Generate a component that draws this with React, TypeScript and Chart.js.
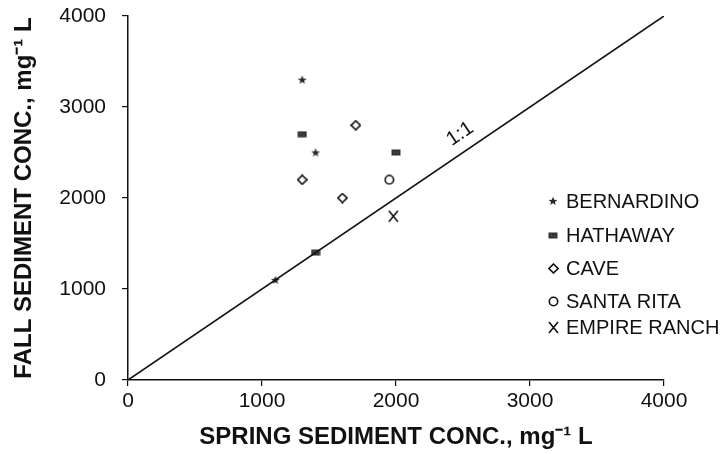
import React, { useEffect, useRef } from "react";
import { Chart, registerables } from "chart.js";

Chart.register(...registerables);

// ---- data ----
const seriesNames = ["BERNARDINO", "HATHAWAY", "CAVE", "SANTA RITA", "EMPIRE RANCH"];
const bernardinoX = [1300, 1400, 1100];
const bernardinoY = [3300, 2500, 1100];
const hathawayX = [1300, 2000, 1400];
const hathawayY = [2700, 2500, 1400];
const caveX = [1700, 1300, 1600];
const caveY = [2800, 2200, 2000];
const santaRitaX = [1950];
const santaRitaY = [2200];
const empireRanchX = [1980];
const empireRanchY = [1800];
const oneToOneX = [0, 4000];
const oneToOneY = [0, 4000];
const xTicks = [0, 1000, 2000, 3000, 4000];
const yTicks = [0, 1000, 2000, 3000, 4000];
const lineLabel = "1:1";
const xTitle = "SPRING SEDIMENT CONC., mg\u207B\u00B9 L";
const yTitle = "FALL SEDIMENT CONC., mg\u207B\u00B9 L";

const FONT = "'Liberation Sans', Arial, Helvetica, sans-serif";

function makeCanvas(w: number, h: number, draw: (c: CanvasRenderingContext2D) => void) {
  const cv = document.createElement("canvas");
  cv.width = w;
  cv.height = h;
  const c = cv.getContext("2d")!;
  draw(c);
  return cv;
}

function starImg() {
  return makeCanvas(10, 10, (c) => {
    c.fillStyle = "#2a2a2a";
    c.beginPath();
    for (let i = 0; i < 10; i++) {
      const r = i % 2 === 0 ? 4.6 : 2.0;
      const a = -Math.PI / 2 + (i * Math.PI) / 5;
      const x = 5 + r * Math.cos(a);
      const y = 5.3 + r * Math.sin(a);
      if (i === 0) c.moveTo(x, y);
      else c.lineTo(x, y);
    }
    c.closePath();
    c.fill();
  });
}

function rectImg() {
  return makeCanvas(10, 7, (c) => {
    c.fillStyle = "#333";
    c.fillRect(0.5, 0.5, 9, 6);
    c.fillStyle = "#777";
    c.fillRect(3, 2.5, 1, 1);
    c.fillRect(6, 3.5, 1, 1);
  });
}

function diamondImg() {
  return makeCanvas(11, 11, (c) => {
    c.strokeStyle = "#111";
    c.lineWidth = 1.6;
    c.beginPath();
    c.moveTo(5.5, 1);
    c.lineTo(10, 5.5);
    c.lineTo(5.5, 10);
    c.lineTo(1, 5.5);
    c.closePath();
    c.stroke();
  });
}

function circleImg() {
  return makeCanvas(11, 11, (c) => {
    c.strokeStyle = "#111";
    c.lineWidth = 1.6;
    c.beginPath();
    c.arc(5.5, 5.5, 4.2, 0, Math.PI * 2);
    c.stroke();
  });
}

function crossImg() {
  return makeCanvas(11, 13, (c) => {
    c.strokeStyle = "#111";
    c.lineWidth = 1.6;
    c.beginPath();
    c.moveTo(1, 1);
    c.lineTo(10, 12);
    c.moveTo(10, 1);
    c.lineTo(1, 12);
    c.stroke();
  });
}

function pts(xs: number[], ys: number[]) {
  return xs.map((x, i) => ({ x, y: ys[i] }));
}

export default function App() {
  const ref = useRef<HTMLCanvasElement | null>(null);

  useEffect(() => {
    document.body.style.margin = "0";
    const imgs = [starImg(), rectImg(), diamondImg(), circleImg(), crossImg()];

    const legendPlugin = {
      id: "customLegend",
      afterDraw(chart: any) {
        const ctx = chart.ctx;
        const rows = [201, 235, 268, 301, 327];
        const mx = 553;
        const tx = 566;
        ctx.save();
        ctx.fillStyle = "#111";
        ctx.font = `20px ${FONT}`;
        ctx.textBaseline = "middle";
        ctx.textAlign = "left";
        seriesNames.forEach((name, i) => {
          const im = imgs[i];
          ctx.drawImage(im, Math.round(mx - im.width / 2), Math.round(rows[i] - im.height / 2));
          ctx.fillText(name, tx, rows[i] + 1);
        });
        ctx.restore();
      },
    };

    const lineLabelPlugin = {
      id: "lineLabel",
      afterDatasetsDraw(chart: any) {
        const xs = chart.scales.x;
        const ys = chart.scales.y;
        const v = 2550;
        const px = xs.getPixelForValue(v);
        const py = ys.getPixelForValue(v);
        const dx = xs.getPixelForValue(4000) - xs.getPixelForValue(0);
        const dy = ys.getPixelForValue(4000) - ys.getPixelForValue(0);
        const ang = Math.atan2(dy, dx);
        const ctx = chart.ctx;
        ctx.save();
        ctx.translate(px, py);
        ctx.rotate(ang);
        ctx.fillStyle = "#111";
        ctx.font = `20px ${FONT}`;
        ctx.textAlign = "center";
        ctx.textBaseline = "middle";
        ctx.fillText(lineLabel, 0, -17);
        ctx.restore();
      },
    };

    const ptBase = { showLine: false, pointRadius: 5, pointHoverRadius: 5 };

    const chart = new Chart(ref.current!, {
      type: "scatter",
      data: {
        datasets: [
          {
            label: "1:1",
            data: pts(oneToOneX, oneToOneY),
            showLine: true,
            borderColor: "#111",
            borderWidth: 1.6,
            pointRadius: 0,
            fill: false,
          } as any,
          { label: seriesNames[0], data: pts(bernardinoX, bernardinoY), pointStyle: imgs[0], ...ptBase },
          { label: seriesNames[1], data: pts(hathawayX, hathawayY), pointStyle: imgs[1], ...ptBase },
          { label: seriesNames[2], data: pts(caveX, caveY), pointStyle: imgs[2], ...ptBase },
          { label: seriesNames[3], data: pts(santaRitaX, santaRitaY), pointStyle: imgs[3], ...ptBase },
          { label: seriesNames[4], data: pts(empireRanchX, empireRanchY), pointStyle: imgs[4], ...ptBase },
        ],
      },
      options: {
        animation: false,
        responsive: false,
        maintainAspectRatio: false,
        layout: { autoPadding: false, padding: { top: 16, right: 64, left: 0, bottom: 0 } },
        plugins: { legend: { display: false }, tooltip: { enabled: false } },
        scales: {
          x: {
            type: "linear",
            min: 0,
            max: 4000,
            afterFit(scale: any) {
              scale.height = 74;
              scale.paddingLeft = 0;
              scale.paddingRight = 0;
            },
            afterBuildTicks(scale: any) {
              scale.ticks = xTicks.map((v) => ({ value: v }));
            },
            border: { display: true, color: "#111", width: 1.5 },
            grid: { drawOnChartArea: false, color: "#111", tickLength: 6, lineWidth: 1.2 },
            ticks: {
              color: "#111",
              font: { family: FONT, size: 21 },
              padding: 3,
              maxRotation: 0,
              callback: (v: any) => String(v),
            },
            title: {
              display: true,
              text: xTitle,
              color: "#111",
              font: { family: FONT, size: 24, weight: "bold" },
              padding: { top: 0, bottom: 2 },
            },
          },
          y: {
            type: "linear",
            min: 0,
            max: 4000,
            afterFit(scale: any) {
              scale.width = 128;
              scale.paddingTop = 0;
              scale.paddingBottom = 0;
            },
            afterBuildTicks(scale: any) {
              scale.ticks = yTicks.map((v) => ({ value: v }));
            },
            border: { display: true, color: "#111", width: 1.5 },
            grid: { drawOnChartArea: false, color: "#111", tickLength: 6, lineWidth: 1.2 },
            ticks: {
              color: "#111",
              font: { family: FONT, size: 21 },
              padding: 16,
              callback: (v: any) => String(v),
            },
            title: {
              display: true,
              text: yTitle,
              color: "#111",
              font: { family: FONT, size: 24, weight: "bold" },
              padding: { top: 10, bottom: 0 },
            },
          },
        },
      },
      plugins: [legendPlugin, lineLabelPlugin],
    } as any);

    return () => chart.destroy();
  }, []);

  return (
    <div style={{ position: "absolute", left: 0, top: 0, width: 728, height: 454, background: "#fff" }}>
      <canvas ref={ref} width={728} height={454} style={{ width: 728, height: 454, display: "block" }} />
    </div>
  );
}
